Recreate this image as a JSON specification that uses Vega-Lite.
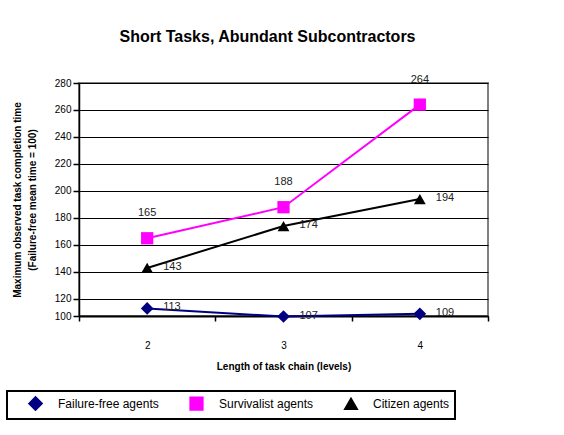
{
  "$schema": "https://vega.github.io/schema/vega-lite/v6.json",
  "autosize": {"type": "none"},
  "width": 409,
  "height": 233,
  "padding": {"left": 79, "top": 83, "right": 76, "bottom": 119},
  "background": "white",
  "title": {
    "text": "Short Tasks, Abundant Subcontractors",
    "fontSize": 16,
    "font": "Liberation Sans",
    "fontWeight": "bold",
    "color": "black",
    "frame": "group",
    "anchor": "middle",
    "dx": -16,
    "offset": 29
  },
  "data": {
    "values": [
      {"level": "2", "series": "Failure-free agents", "value": 113},
      {"level": "3", "series": "Failure-free agents", "value": 107},
      {"level": "4", "series": "Failure-free agents", "value": 109},
      {"level": "2", "series": "Survivalist agents", "value": 165},
      {"level": "3", "series": "Survivalist agents", "value": 188},
      {"level": "4", "series": "Survivalist agents", "value": 264},
      {"level": "2", "series": "Citizen agents", "value": 143},
      {"level": "3", "series": "Citizen agents", "value": 174},
      {"level": "4", "series": "Citizen agents", "value": 194}
    ]
  },
  "encoding": {
    "x": {
      "field": "level",
      "type": "ordinal",
      "scale": {"type": "band", "paddingInner": 0, "paddingOuter": 0},
      "axis": {
        "title": "Length of task chain (levels)",
        "labelAngle": 0,
        "tickBand": "extent",
        "tickSize": 5,
        "labelPadding": 19,
        "titlePadding": 11,
        "domainColor": "black",
        "domainWidth": 2,
        "tickColor": "black",
        "tickWidth": 1.5,
        "grid": false
      }
    },
    "y": {
      "field": "value",
      "type": "quantitative",
      "scale": {"domain": [107.4, 280], "nice": false, "zero": false},
      "axis": {
        "title": ["Maximum observed task completion time", "(Failure-free mean time = 100)"],
        "values": [107.4, 120, 140, 160, 180, 200, 220, 240, 260, 280],
        "labelExpr": "datum.value < 110 ? '100' : datum.label",
        "tickSize": 6,
        "labelPadding": 2,
        "titlePadding": 17,
        "titleLineHeight": 15,
        "domainColor": "black",
        "domainWidth": 1.5,
        "tickColor": "black",
        "tickWidth": 1.5,
        "grid": true,
        "gridColor": "black",
        "gridWidth": 1,
        "gridOpacity": 1
      }
    }
  },
  "layer": [
    {
      "mark": {"type": "line", "strokeWidth": 2},
      "encoding": {
        "color": {
          "field": "series",
          "type": "nominal",
          "scale": {
            "domain": ["Failure-free agents", "Survivalist agents", "Citizen agents"],
            "range": ["#000080", "#FF00FF", "#000000"]
          },
          "legend": {
            "orient": "none",
            "legendX": -72,
            "legendY": 308,
            "direction": "horizontal",
            "title": null,
            "strokeColor": "black",
            "fillColor": "white",
            "padding": 5,
            "labelFont": "Liberation Sans",
            "labelFontSize": 12,
            "labelColor": "black",
            "labelOffset": 15,
            "symbolOffset": 16,
            "columnPadding": 14,
            "symbolSize": 70,
            "symbolStrokeWidth": 2,
            "labelLimit": 300,
            "encode": {
              "legend": {"update": {"strokeWidth": {"value": 2}}}
            }
          }
        }
      }
    },
    {
      "mark": {"type": "point", "filled": true, "opacity": 1},
      "encoding": {
        "shape": {
          "field": "series",
          "type": "nominal",
          "scale": {
            "domain": ["Failure-free agents", "Survivalist agents", "Citizen agents"],
            "range": ["diamond", "square", "triangle-up"]
          },
          "legend": null
        },
        "size": {
          "field": "series",
          "type": "nominal",
          "scale": {
            "domain": ["Failure-free agents", "Survivalist agents", "Citizen agents"],
            "range": [160, 140, 200]
          },
          "legend": null
        },
        "color": {"field": "series", "type": "nominal", "legend": null}
      }
    },
    {
      "transform": [{"filter": "datum.series === 'Survivalist agents'"}],
      "mark": {"type": "text", "align": "center", "baseline": "middle", "dy": -25, "fontSize": 11, "font": "Liberation Sans", "color": "#222222"},
      "encoding": {"text": {"field": "value", "type": "quantitative"}}
    },
    {
      "transform": [{"filter": "datum.series !== 'Survivalist agents'"}],
      "mark": {"type": "text", "align": "left", "baseline": "middle", "dx": 16, "dy": -1, "fontSize": 11, "font": "Liberation Sans", "color": "#222222"},
      "encoding": {"text": {"field": "value", "type": "quantitative"}}
    }
  ],
  "config": {
    "font": "Liberation Sans",
    "view": {"stroke": "#808080", "strokeWidth": 2},
    "axis": {
      "labelFont": "Liberation Sans",
      "labelFontSize": 10,
      "labelColor": "black",
      "titleFont": "Liberation Sans",
      "titleFontSize": 10,
      "titleFontWeight": "bold",
      "titleColor": "black"
    }
  }
}
